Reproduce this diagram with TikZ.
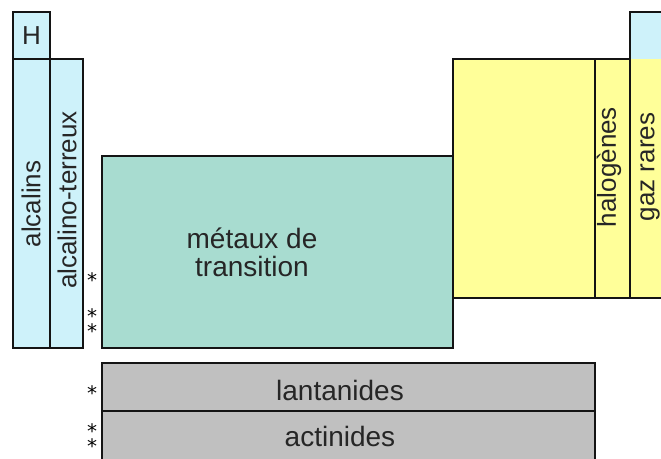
\documentclass[tikz,border=0pt]{standalone}
\usepackage{fontspec}
\setmainfont{Liberation Sans}
\newfontfamily\starfont{DejaVu Sans}
\definecolor{lblue}{RGB}{206,242,250}
\definecolor{teal}{RGB}{168,220,208}
\definecolor{lyel}{RGB}{255,255,153}
\definecolor{lgray}{RGB}{192,192,192}
\definecolor{edge}{RGB}{20,20,20}
\begin{document}
\begin{tikzpicture}[x=1pt,y=-1pt,
  box/.style={draw=edge,line width=1.4pt,anchor=north west,inner sep=0pt,outer sep=0pt},
  lbl/.style={font=\fontsize{28}{31}\selectfont,text=black!85,inner sep=0pt},
  vlbl/.style={font=\fontsize{26}{30}\selectfont,text=black!85,inner sep=0pt,rotate=90},
  star/.style={font=\starfont\fontsize{20}{14}\selectfont,inner sep=0pt,anchor=north,align=center}]
\useasboundingbox (0,0) rectangle (661,458);
% hydrogen
\node[box,fill=lblue,minimum width=37pt,minimum height=47pt] (H) at (13,12) {};
\node[vlbl,rotate=-90] (Hl) at (H.center) {H};
% alkali
\node[box,fill=lblue,minimum width=37pt,minimum height=289pt] (alc) at (13,59) {};
\node[box,fill=lblue,minimum width=33pt,minimum height=289pt] (alt) at (50,59) {};
\node[vlbl] (alcl) at (31,204) {alcalins};
\node[vlbl] (altl) at (67,200) {alcalino-terreux};
% transition
\node[box,fill=teal,minimum width=351pt,minimum height=192pt] (tr) at (102,156) {};
\node[lbl,align=center] (trl) at (252,252) {m\'etaux de\\[-3pt]transition};
% p block
\node[box,fill=lyel,minimum width=142pt,minimum height=239pt] (pb) at (453,59) {};
\node[box,fill=lyel,minimum width=35pt,minimum height=239pt] (hal) at (595,59) {};
\fill[lyel] (630,59) rectangle (690,298);
\fill[lblue] (630,12) rectangle (690,59);
\draw[edge,line width=1.4pt] (690,12) -- (630,12) -- (630,298) -- (690,298);
\coordinate (gz) at (630,12);
\node[vlbl] (hall) at (609,167) {halogènes};
\node[vlbl] (gzl) at (650,167) {gaz rares};
% f block
\node[box,fill=lgray,minimum width=493pt,minimum height=48pt] (lan) at (102,363) {};
\node[box,fill=lgray,minimum width=493pt,minimum height=60pt] (act) at (102,411) {};
\node[lbl] (lanl) at (340,390) {lantanides};
\node[lbl] (actl) at (340,436) {actinides};
% stars
\node[star] (s1) at (92,272) {*};
\node[star] (s2) at (92,308) {*\\*};
\node[star] (s4) at (92,385) {*};
\node[star] (s5) at (92,423) {*\\*};
\end{tikzpicture}
\end{document}
